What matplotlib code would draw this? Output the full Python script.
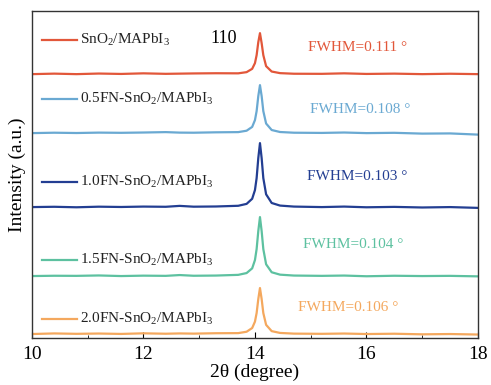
import matplotlib
matplotlib.use("Agg")
import matplotlib.pyplot as plt

plt.rcParams['font.family'] = ['Liberation Serif', 'DejaVu Serif']
plt.rcParams['mathtext.fontset'] = 'custom'
plt.rcParams['mathtext.rm'] = 'Liberation Serif'
plt.rcParams['mathtext.default'] = 'regular'

# 2theta sampling
two_theta = [10.0, 10.4, 10.8, 11.2, 11.6, 12.0, 12.4, 12.65, 12.9, 13.3,
             13.7, 13.85, 13.95, 14.0, 14.03, 14.06, 14.09, 14.12, 14.15, 14.2, 14.3, 14.45, 14.7,
             15.2, 15.6, 16.0, 16.5, 17.0, 17.5, 18.0]

# intensities above each curve's own baseline (a.u.)
sno2 = [0, 0.5, 0, 0.6, 0.2, 0.8, 0.3, 0.5, 0.7, 0.9,
        0.8, 2.0, 5.3, 11, 19, 32, 41, 31, 19, 8.0, 2.6, 1.0, 0.4,
        0.3, 0.8, 0.2, 0.5, 0, 0.4, 0]
fn05 = [0, 0.4, 0.1, 0.5, 0.3, 0.6, 1.0, 0.5, 0.4, 0.8,
        1.0, 2.4, 6.2, 13, 22, 37, 48, 37, 22, 9.6, 3.1, 1.1, 0.4,
        0.2, 0.6, 0.0, 0.3, -0.5, -0.3, -1.5]
fn10 = [0, 0.3, -0.2, 0.4, 0.1, 0.5, 0.3, 1.2, 0.4, 0.6,
        1.3, 3.2, 8.3, 17, 29, 49, 64, 49, 29, 12.8, 4.1, 1.5, 0.5,
        0.0, 0.5, -0.2, 0.2, -0.4, 0.0, -0.8]
fn15 = [0, 0.3, 0.2, 0.6, 0.0, 0.4, 0.2, 1.0, 0.3, 0.5,
        1.2, 3.0, 7.7, 16, 27, 45, 59, 45, 27, 11.8, 3.8, 1.4, 0.5,
        0.2, 0.5, -0.2, 0.3, 0.0, 0.2, -0.3]
fn20 = [0, 0.6, 0.2, 0.5, 0.1, 0.7, 0.3, 0.6, 0.4, 0.8,
        0.9, 2.3, 6.0, 12.4, 21, 35, 46, 35, 21, 9.2, 2.9, 1.1, 0.4,
        0.2, 0.5, 0.0, 0.3, -0.3, 0.0, -0.5]

series = [sno2, fn05, fn10, fn15, fn20]
offsets = [264, 205, 131, 62, 4]
labels = ['SnO$_2$/MAPbI$_3$', '0.5FN-SnO$_2$/MAPbI$_3$', '1.0FN-SnO$_2$/MAPbI$_3$',
          '1.5FN-SnO$_2$/MAPbI$_3$', '2.0FN-SnO$_2$/MAPbI$_3$']
fwhm = ['0.111', '0.108', '0.103', '0.104', '0.106']
colors = ['#E2573A', '#6AA9D2', '#233E92', '#5DC1A0', '#F4A85E']

# label / annotation placement (axes fraction)
label_y = [0.913, 0.730, 0.476, 0.240, 0.057]
fwhm_xy = [(0.73, 0.888), (0.735, 0.70), (0.73, 0.495), (0.72, 0.285), (0.71, 0.092)]

fig = plt.figure(figsize=(4.91, 3.85), dpi=100)
ax = fig.add_axes([0.065, 0.122, 0.9085, 0.849])

for y, off, lab, fw, c, ly, (fx, fy) in zip(series, offsets, labels, fwhm, colors, label_y, fwhm_xy):
    ax.plot(two_theta, [v + off for v in y], color=c, lw=1.6)
    ax.plot([0.022, 0.1], [ly, ly], color=c, lw=1.6, transform=ax.transAxes)
    ax.text(0.108, ly, lab, color='#222222', fontsize=11, va='center', transform=ax.transAxes)
    ax.text(fx, fy, 'FWHM=' + fw + ' °', color=c, fontsize=11, ha='center', va='center',
            transform=ax.transAxes)

ax.text(0.43, 0.917, '110', fontsize=13, ha='center', va='center', transform=ax.transAxes)

ax.set_xlim(10, 18)
ax.set_ylim(0, 327)
ax.set_xticks([10, 12, 14, 16, 18])
ax.set_xticks([11, 13, 15, 17], minor=True)
ax.set_yticks([])
ax.tick_params(axis='x', which='major', direction='in', length=4, labelsize=14, pad=6)
ax.tick_params(axis='x', which='minor', direction='in', length=2.5)
for s in ax.spines.values():
    s.set_color('#333333')
    s.set_linewidth(1.0)
ax.set_xlabel('2θ (degree)', fontsize=14, labelpad=0)
ax.set_ylabel('Intensity (a.u.)', fontsize=14, labelpad=4)

fig.savefig('out.png', dpi=100)
